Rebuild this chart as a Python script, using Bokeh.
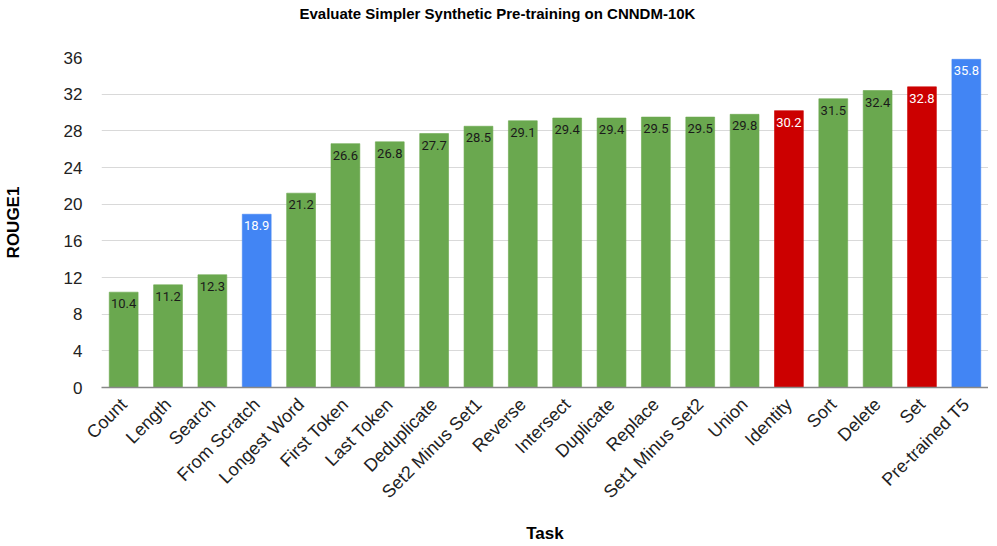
import math
from bokeh.plotting import figure
from bokeh.models import ColumnDataSource, FactorRange, SingleIntervalTicker, LabelSet, Title
from bokeh.embed import file_html
from bokeh.resources import INLINE
from bokeh.core.properties import value

tasks = ["Count", "Length", "Search", "From Scratch", "Longest Word", "First Token",
         "Last Token", "Deduplicate", "Set2 Minus Set1", "Reverse", "Intersect",
         "Duplicate", "Replace", "Set1 Minus Set2", "Union", "Identity", "Sort",
         "Delete", "Set", "Pre-trained T5"]
rouge1 = [10.4, 11.2, 12.3, 18.9, 21.2, 26.6, 26.8, 27.7, 28.5, 29.1, 29.4,
          29.4, 29.5, 29.5, 29.8, 30.2, 31.5, 32.4, 32.8, 35.8]
groups = ["synthetic", "synthetic", "synthetic", "baseline", "synthetic", "synthetic",
          "synthetic", "synthetic", "synthetic", "synthetic", "synthetic",
          "synthetic", "synthetic", "synthetic", "synthetic", "highlight", "synthetic",
          "synthetic", "highlight", "baseline"]

bar_colors = {"synthetic": "#6aa84f", "baseline": "#4285f4", "highlight": "#cc0000"}
text_colors = {"synthetic": "#1a1a1a", "baseline": "#ffffff", "highlight": "#ffffff"}

src = ColumnDataSource(dict(
    task=tasks, val=rouge1,
    label=[f"{v:.1f}" for v in rouge1],
    color=[bar_colors[g] for g in groups],
    tcolor=[text_colors[g] for g in groups],
))

p = figure(x_range=FactorRange(*tasks, range_padding=0), y_range=(0, 36),
           width=988, height=546, output_backend="svg", toolbar_location=None,
           min_border_left=94, min_border_right=0, min_border_top=51, min_border_bottom=10)

p.vbar(x="task", top="val", width=0.65, source=src, fill_color="color",
       line_color="color", line_alpha=0.6)

labels = LabelSet(x="task", y="val", text="label", source=src, text_color="tcolor",
                  text_align="center", text_baseline="top", y_offset=-7,
                  text_font=value("Roboto"), text_font_size="13px")
p.add_layout(labels)

p.title.text = "Evaluate Simpler Synthetic Pre-training on CNNDM-10K"
p.title.align = "left"
p.title.text_font = "Liberation Sans"
p.title.text_font_size = "15px"
p.title.text_font_style = "bold"
p.title.text_color = "#000000"
p.title.standoff = 4
p.title.offset = 198

spacer = Title(text=" ", text_font_size="15px", standoff=15)
p.add_layout(spacer, "above")

p.yaxis.ticker = SingleIntervalTicker(interval=4)
p.yaxis.axis_line_color = None
p.yaxis.major_tick_line_color = None
p.yaxis.minor_tick_line_color = None
p.yaxis.major_label_standoff = 13
p.yaxis.major_label_text_font = "Liberation Sans"
p.yaxis.major_label_text_font_size = "17px"
p.yaxis.major_label_text_color = "#222222"
p.yaxis.axis_label = "ROUGE1"
p.yaxis.axis_label_text_font = "Liberation Sans"
p.yaxis.axis_label_text_font_size = "17px"
p.yaxis.axis_label_text_font_style = "bold"
p.yaxis.axis_label_text_color = "#000000"
p.yaxis.axis_label_standoff = 38

p.xaxis.axis_line_color = "#888888"
p.xaxis.axis_line_width = 1.5
p.xaxis.major_tick_line_color = None
p.xaxis.minor_tick_line_color = None
p.xaxis.major_label_orientation = math.pi / 4
p.xaxis.major_label_standoff = 8
p.xaxis.major_label_text_font = "Liberation Sans"
p.xaxis.major_label_text_font_size = "18px"
p.xaxis.major_label_text_color = "#222222"
p.xaxis.axis_label = "Task"
p.xaxis.axis_label_text_font = "Liberation Sans"
p.xaxis.axis_label_text_font_size = "17px"
p.xaxis.axis_label_text_font_style = "bold"
p.xaxis.axis_label_text_color = "#000000"
p.xaxis.axis_label_standoff = 12

p.xgrid.grid_line_color = None
p.ygrid.grid_line_color = "#d9d9d9"
p.outline_line_color = None

open("out.html", "w").write(file_html(p, INLINE))
